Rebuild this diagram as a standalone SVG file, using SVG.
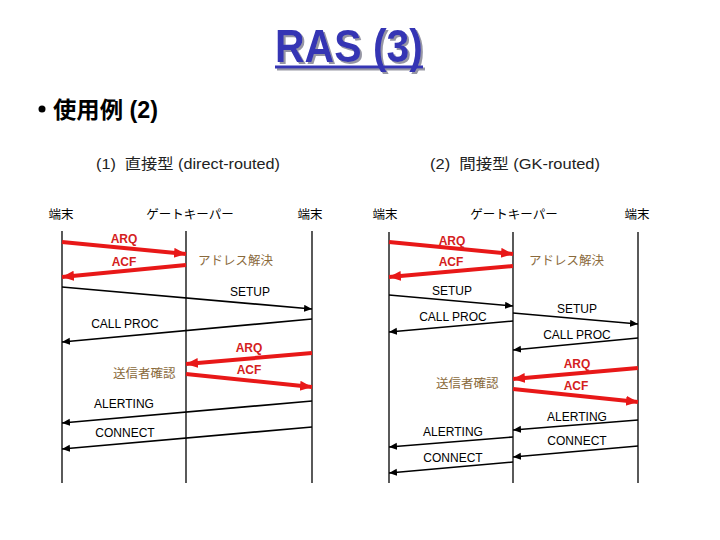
<svg xmlns="http://www.w3.org/2000/svg" width="720" height="540" viewBox="0 0 720 540">
<style>
.t{font-family:"Liberation Sans","Noto Sans CJK JP",sans-serif}
.jp{font-family:"Noto Sans CJK JP","Liberation Sans",sans-serif;font-size:12.5px;fill:#000;text-anchor:middle}
.note{font-family:"Noto Sans CJK JP",sans-serif;font-size:12.5px;fill:#8a6a3c}
.msg{font-family:"Liberation Sans",sans-serif;font-size:12px;fill:#000;text-anchor:middle}
.rl{font-family:"Liberation Sans",sans-serif;font-size:12px;font-weight:bold;fill:#d42020;text-anchor:middle}
.life{stroke:#000;stroke-width:1.3}
.blk{stroke:#000;stroke-width:1.6;marker-end:url(#ab)}
.red{stroke:#e81818;stroke-width:4;marker-end:url(#ar)}
</style>
<defs>
<marker id="ab" markerUnits="userSpaceOnUse" markerWidth="10" markerHeight="8" refX="8" refY="3.5" orient="auto"><path d="M0,0 L8,3.5 L0,7 Z" fill="#000"/></marker>
<marker id="ar" markerUnits="userSpaceOnUse" markerWidth="14" markerHeight="12" refX="12" refY="5" orient="auto"><path d="M0,0 L12,5 L0,10 Z" fill="#e81818"/></marker>
<filter id="shadow" x="-10%" y="-10%" width="130%" height="140%">
<feDropShadow dx="2" dy="2" stdDeviation="0.6" flood-color="#8a8a9a" flood-opacity="0.9"/>
</filter>
</defs>
<rect width="720" height="540" fill="#fff"/>
<g id="title" filter="url(#shadow)">
<text class="t" x="349" y="62" font-size="46" font-weight="bold" fill="#3434b4" text-anchor="middle" textLength="148" lengthAdjust="spacingAndGlyphs">RAS (3)</text>
<line x1="275" y1="67" x2="423" y2="67" stroke="#3434b4" stroke-width="3"/>
</g>
<g id="bullet">
<circle cx="42" cy="109" r="3.5" fill="#000"/>
<text class="t" x="53" y="118" font-size="23" font-weight="bold" fill="#000" textLength="105" lengthAdjust="spacingAndGlyphs">使用例 (2)</text>
</g>
<g id="subtitles">
<text class="t" x="96" y="169" font-size="15" fill="#222" xml:space="preserve" textLength="184" lengthAdjust="spacingAndGlyphs">(1)  直接型 (direct-routed)</text>
<text class="t" x="430" y="169" font-size="15" fill="#222" xml:space="preserve" textLength="170" lengthAdjust="spacingAndGlyphs">(2)  間接型 (GK-routed)</text>
</g>
<g id="left-term1"><text class="jp" x="61" y="219">端末</text><line class="life" x1="62" y1="231" x2="62" y2="483"/></g>
<g id="left-gk"><text class="jp" x="190" y="219">ゲートキーパー</text><line class="life" x1="186" y1="231" x2="186" y2="483"/></g>
<g id="left-term2"><text class="jp" x="310" y="219">端末</text><line class="life" x1="312" y1="231" x2="312" y2="483"/></g>
<g id="right-term1"><text class="jp" x="385" y="219">端末</text><line class="life" x1="389" y1="232" x2="389" y2="483"/></g>
<g id="right-gk"><text class="jp" x="514" y="219">ゲートキーパー</text><line class="life" x1="513" y1="232" x2="513" y2="483"/></g>
<g id="right-term2"><text class="jp" x="637" y="219">端末</text><line class="life" x1="638" y1="232" x2="638" y2="483"/></g>
<g id="connectors">
<line class="red" x1="62" y1="242" x2="186" y2="254"/>
<line class="red" x1="186" y1="265" x2="62" y2="277"/>
<line class="blk" x1="62" y1="287" x2="312" y2="309"/>
<line class="blk" x1="312" y1="319" x2="62" y2="342"/>
<line class="red" x1="312" y1="353" x2="186" y2="364"/>
<line class="red" x1="186" y1="374" x2="312" y2="387"/>
<line class="blk" x1="312" y1="401" x2="62" y2="423"/>
<line class="blk" x1="312" y1="427" x2="62" y2="449"/>
<line class="red" x1="389" y1="242" x2="513" y2="254"/>
<line class="red" x1="513" y1="266" x2="389" y2="277"/>
<line class="blk" x1="389" y1="295" x2="513" y2="306"/>
<line class="blk" x1="513" y1="321" x2="389" y2="332"/>
<line class="blk" x1="513" y1="313" x2="638" y2="324"/>
<line class="blk" x1="638" y1="338" x2="513" y2="350"/>
<line class="red" x1="638" y1="368" x2="513" y2="379"/>
<line class="red" x1="513" y1="389" x2="638" y2="402"/>
<line class="blk" x1="638" y1="420" x2="513" y2="430"/>
<line class="blk" x1="638" y1="446" x2="513" y2="457"/>
<line class="blk" x1="513" y1="437" x2="389" y2="447"/>
<line class="blk" x1="513" y1="462" x2="389" y2="473"/>
</g>
<g id="labels">
<text class="rl" x="124" y="243">ARQ</text>
<text class="rl" x="124" y="266">ACF</text>
<text class="note" x="198" y="265">アドレス解決</text>
<text class="msg" x="250" y="296">SETUP</text>
<text class="msg" x="125" y="328">CALL PROC</text>
<text class="rl" x="249" y="352">ARQ</text>
<text class="rl" x="249" y="374">ACF</text>
<text class="note" x="113" y="378">送信者確認</text>
<text class="msg" x="124" y="408">ALERTING</text>
<text class="msg" x="125" y="437">CONNECT</text>
<text class="rl" x="452" y="245">ARQ</text>
<text class="rl" x="451" y="266">ACF</text>
<text class="note" x="529" y="265">アドレス解決</text>
<text class="msg" x="452" y="295">SETUP</text>
<text class="msg" x="453" y="321">CALL PROC</text>
<text class="msg" x="577" y="313">SETUP</text>
<text class="msg" x="577" y="339">CALL PROC</text>
<text class="rl" x="577" y="368">ARQ</text>
<text class="rl" x="576" y="390">ACF</text>
<text class="note" x="436" y="388">送信者確認</text>
<text class="msg" x="577" y="421">ALERTING</text>
<text class="msg" x="577" y="445">CONNECT</text>
<text class="msg" x="453" y="436">ALERTING</text>
<text class="msg" x="453" y="462">CONNECT</text>
</g>
</svg>
